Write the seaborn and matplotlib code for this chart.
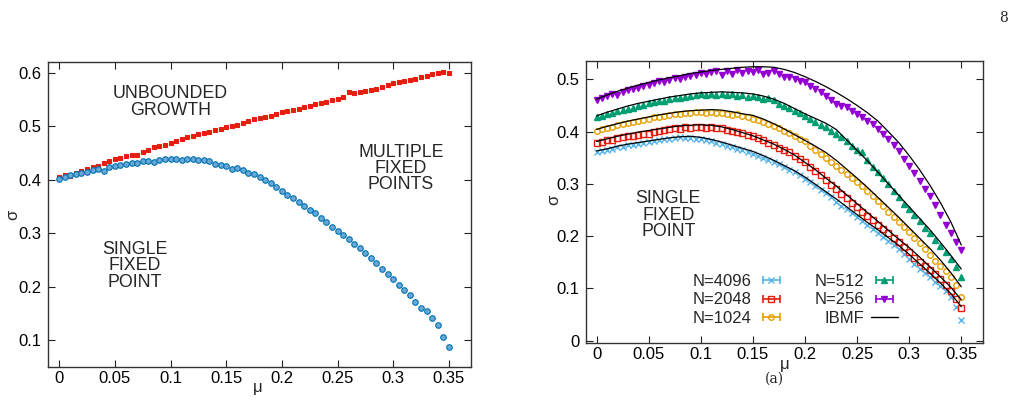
import numpy as np
import seaborn as sns
import matplotlib.pyplot as plt
from matplotlib.lines import Line2D
from matplotlib.legend_handler import HandlerLine2D

# mu grid of the simulations (step 0.005) and of the IBMF curves (step 0.01)
mu = np.linspace(0, 0.35, 71)
mu_ibmf = np.linspace(0, 0.35, 36)

# left panel: phase boundaries
sigma_upper = [0.405, 0.408, 0.407, 0.412, 0.416, 0.420, 0.423, 0.426, 0.432, 0.434,
               0.438, 0.441, 0.444, 0.447, 0.446, 0.452, 0.456, 0.461, 0.463, 0.465,
               0.469, 0.472, 0.476, 0.479, 0.481, 0.486, 0.487, 0.489, 0.493, 0.495,
               0.498, 0.501, 0.503, 0.506, 0.510, 0.514, 0.516, 0.517, 0.519, 0.522,
               0.526, 0.528, 0.530, 0.533, 0.536, 0.538, 0.541, 0.544, 0.546, 0.549,
               0.551, 0.554, 0.564, 0.562, 0.563, 0.565, 0.567, 0.570, 0.574, 0.577,
               0.580, 0.582, 0.584, 0.586, 0.588, 0.591, 0.594, 0.597, 0.599, 0.602,
               0.600]
sigma_lower = [0.401, 0.405, 0.408, 0.410, 0.413, 0.415, 0.418, 0.420, 0.417, 0.424,
               0.426, 0.428, 0.430, 0.431, 0.432, 0.434, 0.435, 0.433, 0.437, 0.439,
               0.439, 0.438, 0.436, 0.439, 0.438, 0.437, 0.437, 0.434, 0.430, 0.428,
               0.426, 0.420, 0.421, 0.419, 0.412, 0.410, 0.405, 0.400, 0.393, 0.386,
               0.378, 0.371, 0.365, 0.358, 0.351, 0.344, 0.337, 0.329, 0.321, 0.312,
               0.304, 0.297, 0.289, 0.280, 0.272, 0.263, 0.254, 0.245, 0.234, 0.224,
               0.214, 0.204, 0.194, 0.184, 0.172, 0.160, 0.154, 0.141, 0.129, 0.107,
               0.087]

# right panel: simulations for several N
n4096 = [0.361, 0.363, 0.365, 0.367, 0.370, 0.371, 0.374, 0.375, 0.377, 0.378,
         0.380, 0.382, 0.383, 0.385, 0.386, 0.387, 0.389, 0.387, 0.388, 0.386,
         0.385, 0.383, 0.381, 0.378, 0.376, 0.372, 0.370, 0.367, 0.364, 0.361,
         0.358, 0.354, 0.350, 0.346, 0.341, 0.337, 0.332, 0.327, 0.322, 0.316,
         0.309, 0.303, 0.296, 0.289, 0.282, 0.274, 0.266, 0.258, 0.251, 0.244,
         0.236, 0.228, 0.221, 0.213, 0.206, 0.198, 0.191, 0.183, 0.175, 0.166,
         0.157, 0.147, 0.137, 0.129, 0.121, 0.113, 0.104, 0.094, 0.083, 0.065,
         0.039]
n2048 = [0.378, 0.380, 0.383, 0.384, 0.387, 0.389, 0.391, 0.392, 0.394, 0.395,
         0.396, 0.399, 0.401, 0.403, 0.404, 0.406, 0.405, 0.408, 0.407, 0.409,
         0.408, 0.406, 0.409, 0.407, 0.406, 0.403, 0.402, 0.400, 0.397, 0.394,
         0.391, 0.388, 0.383, 0.378, 0.374, 0.369, 0.364, 0.360, 0.354, 0.348,
         0.342, 0.333, 0.325, 0.316, 0.307, 0.298, 0.290, 0.281, 0.273, 0.264,
         0.256, 0.247, 0.239, 0.230, 0.221, 0.213, 0.205, 0.196, 0.188, 0.179,
         0.170, 0.159, 0.150, 0.142, 0.135, 0.127, 0.118, 0.107, 0.095, 0.080,
         0.062]
n1024 = [0.401, 0.405, 0.407, 0.409, 0.412, 0.414, 0.416, 0.418, 0.421, 0.422,
         0.425, 0.427, 0.428, 0.430, 0.432, 0.433, 0.434, 0.436, 0.435, 0.437,
         0.438, 0.436, 0.437, 0.435, 0.436, 0.434, 0.432, 0.433, 0.430, 0.427,
         0.425, 0.422, 0.418, 0.414, 0.410, 0.406, 0.401, 0.397, 0.392, 0.386,
         0.381, 0.373, 0.365, 0.357, 0.350, 0.342, 0.335, 0.327, 0.319, 0.311,
         0.303, 0.295, 0.287, 0.277, 0.267, 0.257, 0.247, 0.237, 0.227, 0.217,
         0.207, 0.197, 0.186, 0.175, 0.164, 0.153, 0.143, 0.133, 0.121, 0.106,
         0.084]
n512 = [0.428, 0.430, 0.433, 0.436, 0.439, 0.441, 0.444, 0.446, 0.449, 0.451,
        0.454, 0.456, 0.458, 0.459, 0.462, 0.464, 0.465, 0.467, 0.468, 0.470,
        0.471, 0.470, 0.471, 0.470, 0.472, 0.470, 0.471, 0.469, 0.470, 0.467,
        0.468, 0.466, 0.463, 0.464, 0.461, 0.452, 0.449, 0.446, 0.440, 0.435,
        0.430, 0.424, 0.419, 0.413, 0.408, 0.402, 0.396, 0.390, 0.382, 0.373,
        0.365, 0.360, 0.345, 0.333, 0.322, 0.311, 0.299, 0.286, 0.274, 0.262,
        0.251, 0.240, 0.228, 0.216, 0.205, 0.193, 0.182, 0.170, 0.157, 0.140,
        0.122]
n256 = [0.461, 0.465, 0.468, 0.472, 0.470, 0.476, 0.479, 0.481, 0.484, 0.487,
        0.490, 0.492, 0.496, 0.494, 0.499, 0.502, 0.500, 0.505, 0.507, 0.509,
        0.512, 0.510, 0.514, 0.516, 0.509, 0.515, 0.510, 0.518, 0.512, 0.516,
        0.514, 0.518, 0.510, 0.513, 0.516, 0.510, 0.504, 0.505, 0.500, 0.497,
        0.494, 0.488, 0.482, 0.475, 0.468, 0.460, 0.452, 0.448, 0.447, 0.440,
        0.434, 0.428, 0.421, 0.414, 0.404, 0.396, 0.385, 0.374, 0.362, 0.348,
        0.334, 0.320, 0.305, 0.290, 0.276, 0.260, 0.241, 0.222, 0.205, 0.188,
        0.173]

# IBMF predictions
ibmf4096 = [0.363, 0.367, 0.372, 0.376, 0.379, 0.382, 0.385, 0.388, 0.390, 0.391,
            0.389, 0.385, 0.380, 0.374, 0.368, 0.362, 0.354, 0.345, 0.335, 0.325,
            0.313, 0.299, 0.285, 0.271, 0.256, 0.241, 0.226, 0.212, 0.197, 0.182,
            0.165, 0.147, 0.129, 0.110, 0.090, 0.065]
ibmf2048 = [0.381, 0.386, 0.391, 0.395, 0.399, 0.402, 0.405, 0.408, 0.411, 0.412,
            0.413, 0.412, 0.409, 0.404, 0.398, 0.392, 0.384, 0.376, 0.366, 0.355,
            0.341, 0.327, 0.311, 0.296, 0.279, 0.262, 0.245, 0.228, 0.211, 0.194,
            0.178, 0.160, 0.141, 0.122, 0.102, 0.078]
ibmf1024 = [0.404, 0.410, 0.415, 0.420, 0.424, 0.428, 0.432, 0.435, 0.438, 0.440,
            0.441, 0.442, 0.441, 0.438, 0.434, 0.431, 0.424, 0.415, 0.405, 0.394,
            0.383, 0.372, 0.360, 0.345, 0.328, 0.311, 0.293, 0.274, 0.255, 0.236,
            0.216, 0.196, 0.176, 0.154, 0.130, 0.103]
ibmf512 = [0.430, 0.437, 0.443, 0.449, 0.454, 0.458, 0.462, 0.466, 0.469, 0.472,
           0.474, 0.475, 0.476, 0.475, 0.474, 0.472, 0.468, 0.462, 0.454, 0.444,
           0.434, 0.425, 0.416, 0.404, 0.384, 0.364, 0.344, 0.322, 0.300, 0.278,
           0.256, 0.234, 0.212, 0.188, 0.163, 0.137]
ibmf256 = [0.462, 0.470, 0.477, 0.483, 0.489, 0.494, 0.499, 0.503, 0.507, 0.511,
           0.514, 0.517, 0.519, 0.521, 0.523, 0.524, 0.524, 0.523, 0.519, 0.513,
           0.505, 0.496, 0.486, 0.475, 0.463, 0.450, 0.436, 0.420, 0.400, 0.379,
           0.354, 0.327, 0.297, 0.264, 0.227, 0.183]

xticks = [0, 0.05, 0.1, 0.15, 0.2, 0.25, 0.3, 0.35]
xticklabels = ['0', '0.05', '0.1', '0.15', '0.2', '0.25', '0.3', '0.35']
yticks_left = [0.1, 0.2, 0.3, 0.4, 0.5, 0.6]
yticks_right = [0, 0.1, 0.2, 0.3, 0.4, 0.5]

series = [
    ('N=4096', n4096, ibmf4096, '#56b4e9', 'x'),
    ('N=2048', n2048, ibmf2048, '#e51e10', 's'),
    ('N=1024', n1024, ibmf1024, '#e69f00', 'o'),
    ('N=512', n512, ibmf512, '#009e73', '^'),
    ('N=256', n256, ibmf256, '#9400d3', 'v'),
]

sns.set_style('ticks')
plt.rcParams['font.family'] = ['Liberation Sans', 'DejaVu Sans']
plt.rcParams['font.size'] = 12

fig = plt.figure(figsize=(10.22, 4.03), dpi=100)
ax1 = fig.add_axes([0.047, 0.0893, 0.414, 0.757])
ax2 = fig.add_axes([0.573, 0.1496, 0.389, 0.699])

# left panel
sns.lineplot(x=mu, y=sigma_upper, ax=ax1, color='#e51e10', marker='s', markersize=3.0,
             linestyle='none', mec='#e51e10', mew=0.8)
sns.lineplot(x=mu, y=sigma_lower, ax=ax1, color='#0072b2', marker='o', markersize=4.0,
             linestyle='none', mfc='#6aa9d6', mec='#0072b2', mew=0.8)
ax1.set_xlim(-0.01, 0.37)
ax1.set_ylim(0.05, 0.62)
ax1.set_yticks(yticks_left)
ax1.set_yticklabels([f'{v:g}' for v in yticks_left])
note = dict(ha='center', va='center', linespacing=0.95, fontsize=12.8)
ax1.text(0.100, 0.545, 'UNBOUNDED\nGROWTH', **note)
ax1.text(0.307, 0.421, 'MULTIPLE\nFIXED\nPOINTS', **note)
ax1.text(0.068, 0.239, 'SINGLE\nFIXED\nPOINT', **note)

# right panel
handles = []
handler_map = {}
for name, vals, ibmf, color, marker in series:
    filled = marker in ('^', 'v')
    sns.lineplot(x=mu, y=vals, ax=ax2, color=color, marker=marker, markersize=4.0,
                 linestyle='none', mec=color, mfc=color if filled else 'none', mew=1.0)
    caps = Line2D([], [], color=color, lw=1.2, marker='|', markersize=6, mew=1.2)
    mark = Line2D([], [], color=color, linestyle='none', marker=marker, markersize=4.0,
                  mfc=color if filled else 'none', mew=1.0)
    handler_map[caps] = HandlerLine2D(numpoints=2)
    handles.append((caps, mark))
for ibmf in [ibmf4096, ibmf2048, ibmf1024, ibmf512, ibmf256]:
    sns.lineplot(x=mu_ibmf, y=ibmf, ax=ax2, color='black', linewidth=0.9)
ibmf_handle = Line2D([], [], color='black', lw=1.0)

labels = [s[0] for s in series]
leg_handles = handles + [ibmf_handle]
leg_labels = labels + ['IBMF']
ax2.legend(leg_handles, leg_labels, handler_map=handler_map, ncol=2, markerfirst=False,
           frameon=False, loc='center', bbox_to_anchor=(0.527, 0.152), borderpad=0,
           handlelength=1.6, handletextpad=0.4, columnspacing=1.8, labelspacing=0.2,
           numpoints=1, fontsize=12)
ax2.set_xlim(-0.0105, 0.371)
ax2.set_ylim(-0.004, 0.535)
ax2.set_yticks(yticks_right)
ax2.set_yticklabels([f'{v:g}' for v in yticks_right])
ax2.text(0.0688, 0.240, 'SINGLE\nFIXED\nPOINT', **note)

for ax in (ax1, ax2):
    ax.set_xticks(xticks)
    ax.set_xticklabels(xticklabels)
    ax.tick_params(direction='in', length=5, width=0.8, top=True, right=True,
                   labelsize=12, colors='#222222', labelcolor='black')
    ax.tick_params(axis='x', pad=3)
    ax.tick_params(axis='y', pad=4.5)
    for sp in ax.spines.values():
        sp.set_visible(True)
        sp.set_linewidth(1.0)
        sp.set_color('#333333')
    ax.set_xlabel('μ', fontsize=12, labelpad=0)
    ax.set_ylabel('σ', fontsize=12)

ax1.xaxis.set_label_coords(0.496, -0.044)
ax1.yaxis.set_label_coords(-0.066, 0.5)
ax2.xaxis.set_label_coords(0.5, -0.049)
ax2.yaxis.set_label_coords(-0.062, 0.507)

fig.text(1003 / 1022, 1 - 18 / 403, '8', family='DejaVu Serif', fontsize=10,
         ha='center', va='center')
fig.text(774 / 1022, 1 - 379 / 403, '(a)', family='DejaVu Serif', fontsize=10,
         ha='center', va='center')

fig.savefig('out.png', dpi=100)
